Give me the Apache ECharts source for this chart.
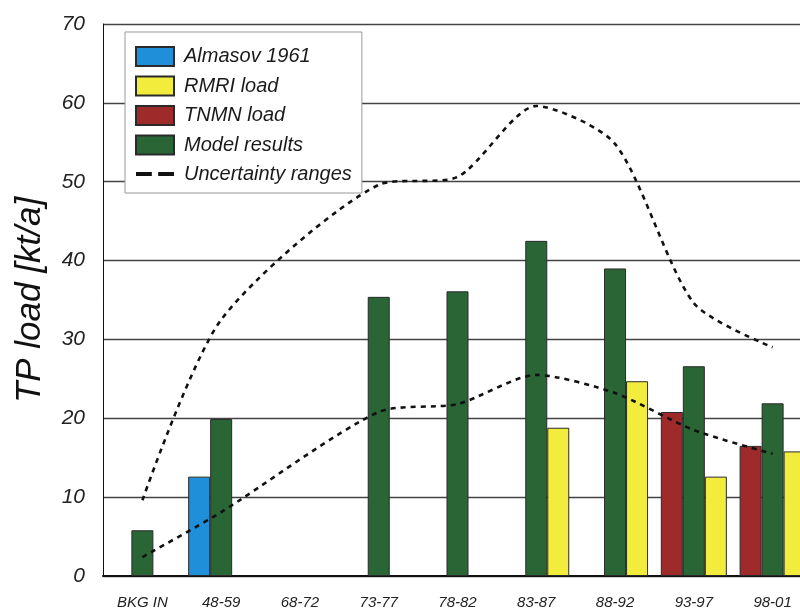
<!DOCTYPE html>
<html>
<head>
<meta charset="utf-8">
<script src="https://cdn.jsdelivr.net/npm/echarts@6/dist/echarts.min.js"></script>
<style>html,body{margin:0;padding:0;background:#fff}#c{width:800px;height:612px}</style>
</head>
<body>
<div id="c"></div>
<script>
const categories = ['BKG IN', '48-59', '68-72', '73-77', '78-82', '83-87', '88-92', '93-97', '98-01'];
const almasov = [null, 12.6, null, null, null, null, null, null, null];
const rmri = [null, null, null, null, null, 18.8, 24.7, 12.6, 15.8];
const tnmn = [null, null, null, null, null, null, null, 20.8, 16.5];
const model = [5.8, 19.9, null, 35.4, 36.1, 42.5, 39.0, 26.6, 21.9];
const upperRange = [9.6, 32.5, null, 49.6, 50.6, 59.6, 54.8, 34.6, 29.0];
const lowerRange = [2.4, 8.1, null, 20.8, 21.8, 25.5, 23.2, 18.5, 15.5];
const yTicks = [0, 10, 20, 30, 40, 50, 60, 70];

const FONT = 'Liberation Sans';
const chart = echarts.init(document.getElementById('c'));
const border = { borderColor: '#2a2a2a', borderWidth: 1 };
const dashStyle = { color: '#111', width: 2.6, type: [5, 5] };

chart.setOption({
  animation: false,
  backgroundColor: '#fff',
  textStyle: { fontFamily: FONT },
  grid: { left: 103, top: 24, width: 709, bottom: 36, containLabel: false, outerBoundsMode: 'none' },
  legend: {
    left: 125, top: 32, orient: 'vertical',
    data: [
      { name: 'Almasov 1961', icon: 'rect' },
      { name: 'RMRI load', icon: 'rect' },
      { name: 'TNMN load', icon: 'rect' },
      { name: 'Model results', icon: 'rect' },
      { name: 'Uncertainty ranges', icon: 'path://M0,0h15v4h-15zM21,0h15v4h-15z' }
    ],
    itemWidth: 38, itemHeight: 19, itemGap: 8.5,
    padding: [14, 10, 9, 10],
    backgroundColor: '#fff', borderColor: '#999', borderWidth: 1,
    textStyle: { fontFamily: FONT, fontStyle: 'italic', fontSize: 20, lineHeight: 19, color: '#1a1a1a', padding: [0, 0, 0, 5] },
    selectedMode: false
  },
  xAxis: {
    type: 'category', data: categories,
    axisLine: { show: true, lineStyle: { color: '#111', width: 2 } },
    axisTick: { show: false },
    axisLabel: { fontFamily: FONT, fontStyle: 'italic', fontSize: 15, color: '#222', margin: 19 },
    splitLine: { show: false }
  },
  yAxis: {
    type: 'value', min: 0, max: 70, interval: 10,
    name: 'TP load [kt/a]', nameLocation: 'middle', nameGap: 55, nameRotate: 90,
    nameTextStyle: { fontFamily: FONT, fontStyle: 'italic', fontSize: 35, color: '#111' },
    axisLine: { show: true, lineStyle: { color: '#111', width: 1 } },
    axisTick: { show: false },
    axisLabel: { fontFamily: FONT, fontStyle: 'italic', fontSize: 21, color: '#222', margin: 18,
      formatter: v => yTicks.includes(v) ? String(v) : '' },
    splitLine: { show: true, lineStyle: { color: '#444', width: 1.3 } }
  },
  series: [
    { name: 'Almasov 1961', type: 'bar', stack: 'left', data: almasov, barWidth: 22, barGap: '0%',
      itemStyle: Object.assign({ color: '#1f8fd9' }, border) },
    { name: 'TNMN load', type: 'bar', stack: 'left', data: tnmn, barWidth: 22, barGap: '0%',
      itemStyle: Object.assign({ color: '#9e2a2a' }, border) },
    { name: 'Model results', type: 'bar', data: model, barWidth: 22, barGap: '0%',
      itemStyle: Object.assign({ color: '#2a6536' }, border) },
    { name: 'RMRI load', type: 'bar', data: rmri, barWidth: 22, barGap: '0%',
      itemStyle: Object.assign({ color: '#f2ec3d' }, border) },
    { name: 'Uncertainty ranges', type: 'line', data: upperRange, connectNulls: true, smooth: 0.25,
      symbol: 'none', lineStyle: dashStyle, itemStyle: { color: '#111' }, z: 5 },
    { name: 'Uncertainty ranges', type: 'line', data: lowerRange, connectNulls: true, smooth: 0.25,
      symbol: 'none', lineStyle: dashStyle, itemStyle: { color: '#111' }, z: 5 }
  ]
});
</script>
</body>
</html>
